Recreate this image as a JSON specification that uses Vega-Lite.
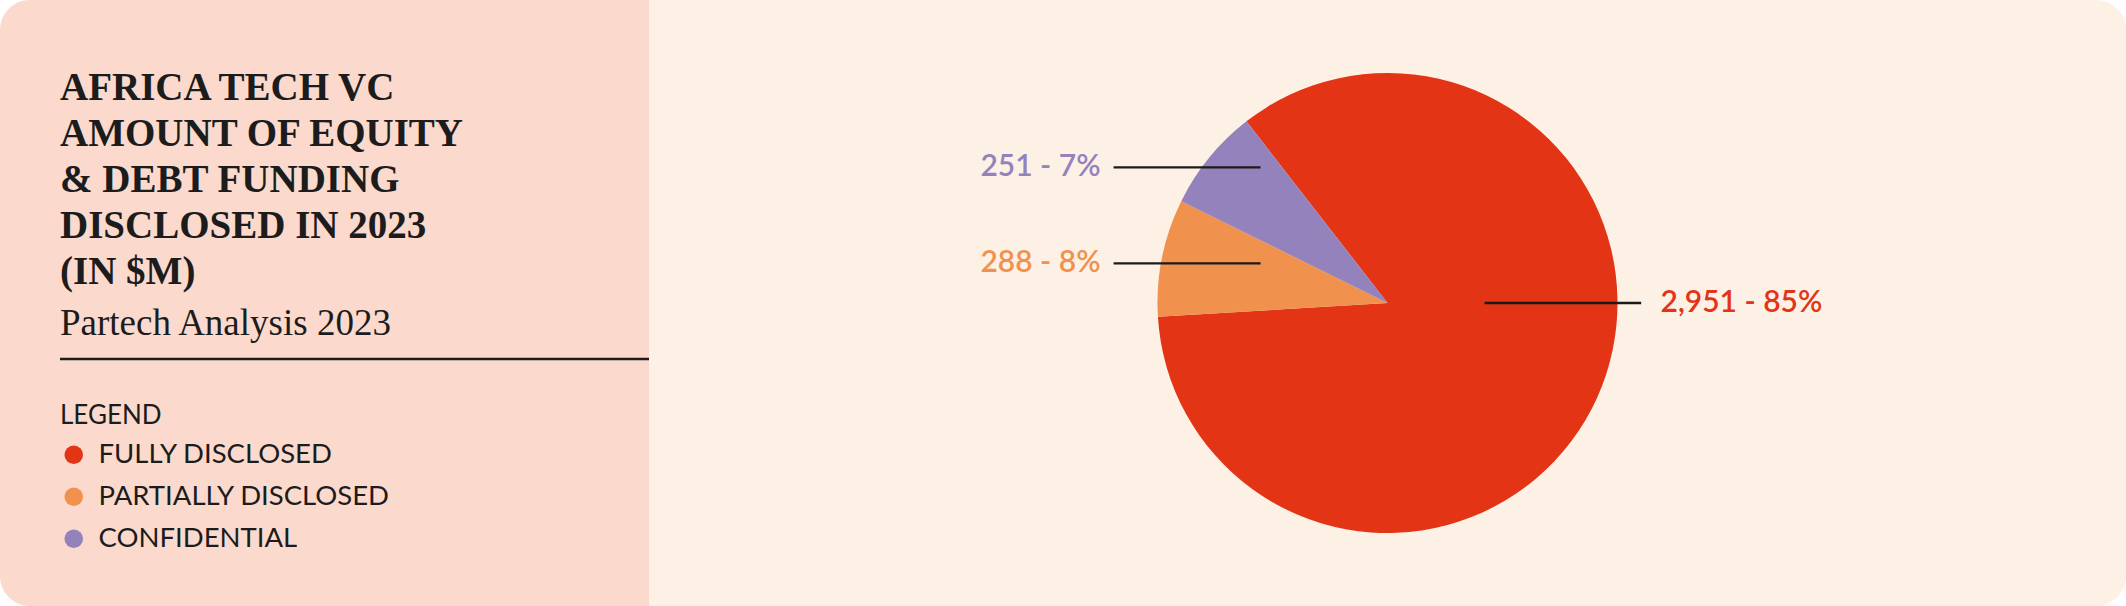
{
  "$schema": "https://vega.github.io/schema/vega-lite/v6.json",
  "background": "#ffffff",
  "padding": 0,
  "spacing": 0,
  "bounds": "flush",
  "data": {
    "values": [
      {"category": "FULLY DISCLOSED", "amount": 2951, "share": 85},
      {"category": "PARTIALLY DISCLOSED", "amount": 288, "share": 8},
      {"category": "CONFIDENTIAL", "amount": 251, "share": 7}
    ]
  },
  "hconcat": [
    {
      "width": 649,
      "height": 606,
      "view": {"fill": "#fbd9cd", "stroke": null, "cornerRadius": 30},
      "title": {
        "text": ["AFRICA TECH VC", "AMOUNT OF EQUITY", "& DEBT FUNDING", "DISCLOSED IN 2023", "(IN $M)"],
        "subtitle": "Partech Analysis 2023",
        "anchor": "start",
        "frame": "group",
        "orient": "top",
        "offset": 0,
        "dx": 60,
        "dy": 342,
        "font": "Liberation Serif",
        "fontSize": 39,
        "fontWeight": "bold",
        "lineHeight": 46,
        "color": "#1c1c1c",
        "subtitleFont": "Liberation Serif",
        "subtitleFontSize": 37,
        "subtitleColor": "#1c1c1c",
        "subtitlePadding": 14
      },
      "layer": [
        {
          "data": {"values": [{}]},
          "mark": {"type": "rect", "color": "#fbd9cd"},
          "encoding": {
            "x": {"datum": 0.5, "type": "quantitative", "scale": {"domain": [0, 1], "nice": false, "zero": false}, "axis": null},
            "x2": {"datum": 1},
            "y": {"datum": 0, "type": "quantitative", "scale": {"domain": [0, 1], "nice": false, "zero": false}, "axis": null},
            "y2": {"datum": 1}
          }
        },
        {
          "data": {"values": [{}]},
          "mark": {"type": "rule", "color": "#1c1c1c", "strokeWidth": 2.5},
          "encoding": {
            "x": {"datum": 0.0925, "type": "quantitative"},
            "x2": {"datum": 1},
            "y": {"datum": 0.4076, "type": "quantitative"}
          }
        }
      ]
    },
    {
      "width": 1477,
      "height": 606,
      "view": {"fill": "#fdf1e6", "stroke": null, "cornerRadius": 30},
      "layer": [
        {
          "data": {"values": [{}]},
          "mark": {"type": "rect", "color": "#fdf1e6"},
          "encoding": {
            "x": {"datum": -3.2109, "type": "quantitative", "scale": {"domain": [-3.2109, 3.2109], "nice": false, "zero": false}, "axis": null},
            "x2": {"datum": 0},
            "y": {"datum": -1.3174, "type": "quantitative", "scale": {"domain": [-1.3174, 1.3174], "nice": false, "zero": false}, "axis": null},
            "y2": {"datum": 1.3174}
          }
        },
        {
          "mark": {"type": "arc", "outerRadius": 230, "stroke": null},
          "encoding": {
            "theta": {"field": "amount", "type": "quantitative", "stack": true, "scale": {"range": [5.171, 11.454]}},
            "order": {"field": "category", "sort": "ascending"},
            "color": {
              "field": "category",
              "type": "nominal",
              "scale": {
                "domain": ["FULLY DISCLOSED", "PARTIALLY DISCLOSED", "CONFIDENTIAL"],
                "range": ["#e43416", "#f0914e", "#9482bc"]
              },
              "legend": {
                "title": "LEGEND",
                "orient": "none",
                "legendX": 60,
                "legendY": 403,
                "direction": "vertical",
                "padding": 0,
                "symbolType": "circle",
                "symbolSize": 346,
                "symbolStrokeWidth": 0,
                "symbolOpacity": 1,
                "labelFont": "Lato",
                "labelFontSize": 27.5,
                "labelColor": "#1c1c1c",
                "labelOffset": 11,
                "labelLimit": 500,
                "rowPadding": 13,
                "titleFont": "Lato",
                "titleFontSize": 26,
                "titleFontWeight": "normal",
                "titleColor": "#1c1c1c",
                "titlePadding": 12
              }
            }
          }
        },
        {
          "transform": [
            {"filter": "datum.category === 'CONFIDENTIAL'"},
            {"calculate": "format(datum.amount, ',') + ' - ' + datum.share + '%'", "as": "label"}
          ],
          "layer": [
            {
              "mark": {"type": "rule", "color": "#1a1a1a", "strokeWidth": 2.3},
              "encoding": {
                "x": {"datum": -1.191, "type": "quantitative"},
                "x2": {"datum": -0.552},
                "y": {"datum": 0.59, "type": "quantitative"}
              }
            },
            {
              "mark": {"type": "text", "align": "right", "baseline": "middle", "font": "Lato", "fontSize": 30, "fontWeight": 600, "color": "#9482bc"},
              "encoding": {
                "x": {"datum": -1.248, "type": "quantitative"},
                "y": {"datum": 0.59, "type": "quantitative"},
                "text": {"field": "label"}
              }
            }
          ]
        },
        {
          "transform": [
            {"filter": "datum.category === 'PARTIALLY DISCLOSED'"},
            {"calculate": "format(datum.amount, ',') + ' - ' + datum.share + '%'", "as": "label"}
          ],
          "layer": [
            {
              "mark": {"type": "rule", "color": "#1a1a1a", "strokeWidth": 2.3},
              "encoding": {
                "x": {"datum": -1.191, "type": "quantitative"},
                "x2": {"datum": -0.552},
                "y": {"datum": 0.172, "type": "quantitative"}
              }
            },
            {
              "mark": {"type": "text", "align": "right", "baseline": "middle", "font": "Lato", "fontSize": 30, "fontWeight": 600, "color": "#f0914e"},
              "encoding": {
                "x": {"datum": -1.248, "type": "quantitative"},
                "y": {"datum": 0.172, "type": "quantitative"},
                "text": {"field": "label"}
              }
            }
          ]
        },
        {
          "transform": [
            {"filter": "datum.category === 'FULLY DISCLOSED'"},
            {"calculate": "format(datum.amount, ',') + ' - ' + datum.share + '%'", "as": "label"}
          ],
          "layer": [
            {
              "mark": {"type": "rule", "color": "#1a1a1a", "strokeWidth": 2.3},
              "encoding": {
                "x": {"datum": 0.422, "type": "quantitative"},
                "x2": {"datum": 1.103},
                "y": {"datum": 0, "type": "quantitative"}
              }
            },
            {
              "mark": {"type": "text", "align": "left", "baseline": "middle", "font": "Lato", "fontSize": 30, "fontWeight": 600, "color": "#e43416"},
              "encoding": {
                "x": {"datum": 1.187, "type": "quantitative"},
                "y": {"datum": 0, "type": "quantitative"},
                "text": {"field": "label"}
              }
            }
          ]
        }
      ]
    }
  ],
  "config": {
    "view": {"stroke": null}
  }
}
